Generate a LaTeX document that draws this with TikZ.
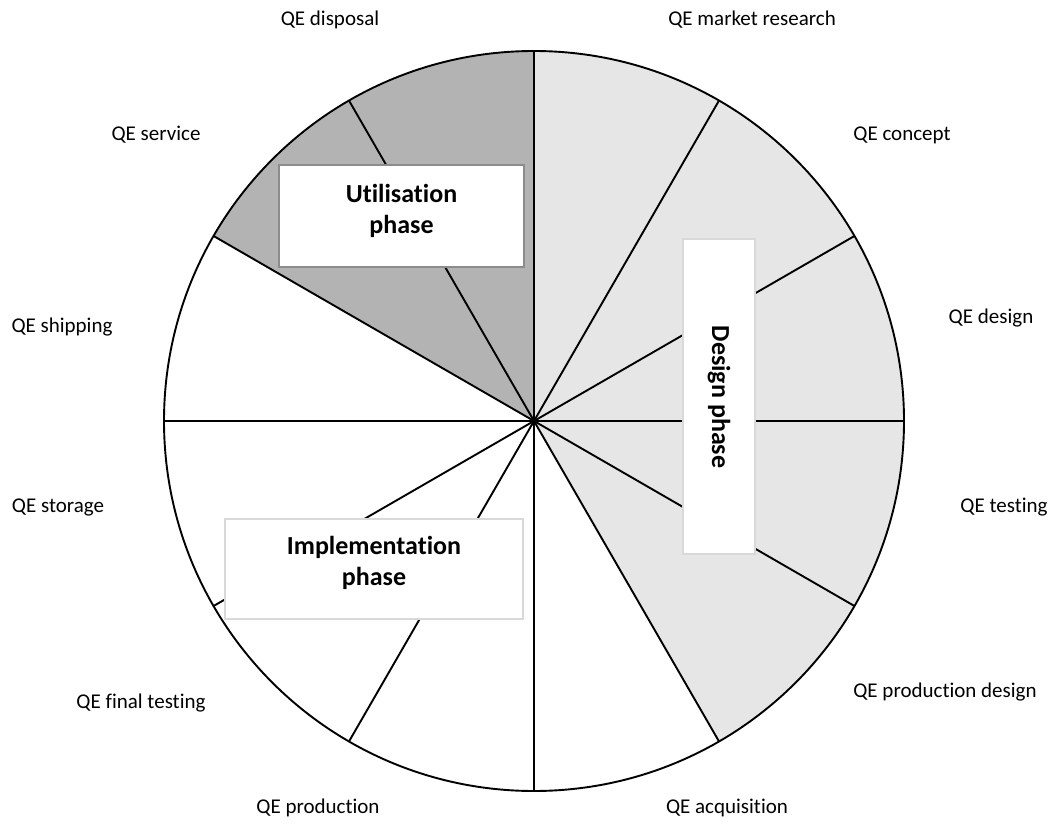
\documentclass[tikz,border=0pt]{standalone}
\usepackage{fontspec}
\setmainfont{Carlito}[Ligatures=NoCommon]
\definecolor{lightg}{HTML}{E6E6E6}
\definecolor{darkg}{HTML}{B3B3B3}
\definecolor{boxline}{HTML}{D9D9D9}
\definecolor{boxdark}{HTML}{8C8C8C}
\tikzset{
  lbl/.style={font=\fontsize{21}{25}\selectfont, inner sep=0pt},
  phasebox/.style={draw=boxline, line width=1.5pt, fill=white, inner sep=0pt},
  phasetext/.style={align=center, font=\bfseries\fontsize{26}{31}\selectfont, inner sep=0pt},
  spoke/.style={line width=1.9pt},
}
\begin{document}
\begin{tikzpicture}[x=1pt,y=1pt]
\useasboundingbox (0,0) rectangle (1051,823);
\coordinate (c) at (534,402);
% sectors
\fill[lightg] (c) -- ++(-60:370pt) arc[start angle=-60, end angle=90, radius=370pt] -- cycle;
\fill[darkg] (c) -- ++(90:370pt) arc[start angle=90, end angle=150, radius=370pt] -- cycle;
% spokes
\foreach \a in {0,30,...,330} {
  \draw[spoke] (c) -- ++(\a:370pt) coordinate (s\a);
}
\draw[spoke] (c) circle[radius=370pt];
% phase boxes
\node[phasebox, draw=boxdark, minimum width=245pt, minimum height=102pt] (util) at (401.5,607) {};
\node[phasetext] (utiltxt) at (401.5,612) {Utilisation\\phase};
\node[phasebox, minimum width=298pt, minimum height=100pt] (impl) at (374,254) {};
\node[phasetext] (impltxt) at (374,260) {Implementation\\phase};
\node[phasebox, minimum width=72pt, minimum height=315pt] (design) at (719,426.5) {};
\node[phasetext, rotate=-90] (designtxt) at (719,426) {Design phase};
% labels
\node[lbl] (l1) at (330,803) {QE disposal};
\node[lbl] (l2) at (752,803) {QE market research};
\node[lbl] (l3) at (902,688) {QE concept};
\node[lbl] (l4) at (156,688) {QE service};
\node[lbl] (l5) at (991,505) {QE design};
\node[lbl] (l6) at (62,496) {QE shipping};
\node[lbl] (l7) at (1004,316) {QE testing};
\node[lbl] (l8) at (58,316) {QE storage};
\node[lbl] (l9) at (945,131) {QE production design};
\node[lbl] (l10) at (141,120) {QE final testing};
\node[lbl] (l11) at (318,15) {QE production};
\node[lbl] (l12) at (727,15) {QE acquisition};
\end{tikzpicture}
\end{document}
